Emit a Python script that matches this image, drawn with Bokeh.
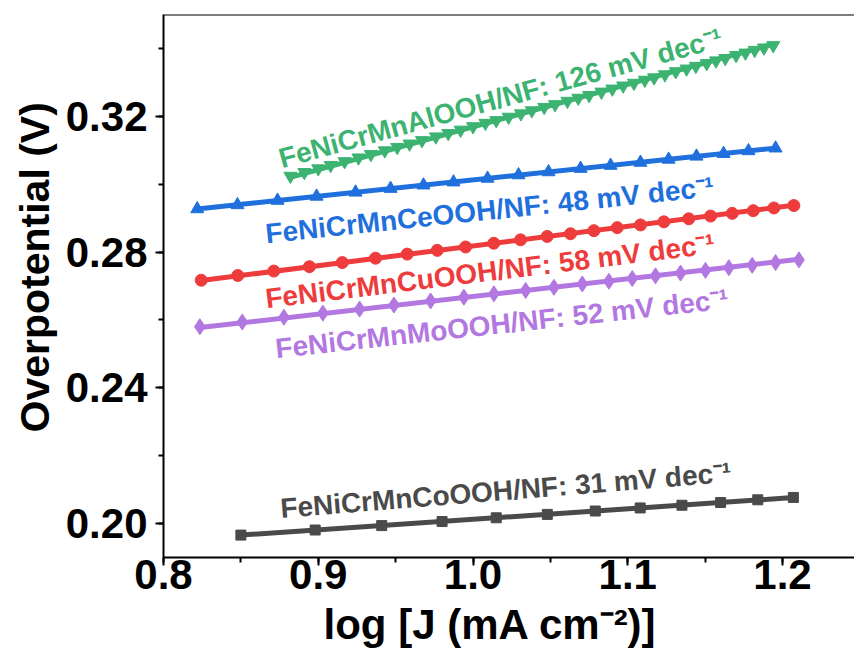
import numpy as np
from bokeh.plotting import figure
from bokeh.models import Range1d, SingleIntervalTicker, PrintfTickFormatter, Label, Span, Title
from bokeh.embed import file_html
from bokeh.resources import INLINE

# Tafel data: log J (mA cm^-2) against overpotential (V)
al_x = [0.882, 0.891, 0.900, 0.908, 0.917, 0.926, 0.934, 0.943, 0.951, 0.959,
        0.967, 0.976, 0.984, 0.992, 1.000, 1.008, 1.015, 1.023, 1.031, 1.038,
        1.046, 1.053, 1.061, 1.068, 1.075, 1.083, 1.090, 1.097, 1.104, 1.111,
        1.117, 1.124, 1.131, 1.138, 1.144, 1.151, 1.157, 1.163, 1.170, 1.176,
        1.182, 1.188, 1.194]
al_y = [0.3024, 0.3035, 0.3046, 0.3056, 0.3067, 0.3078, 0.3088, 0.3099, 0.3109, 0.3119,
        0.3129, 0.3140, 0.3150, 0.3160, 0.3170, 0.3180, 0.3188, 0.3198, 0.3208, 0.3217,
        0.3227, 0.3235, 0.3245, 0.3254, 0.3262, 0.3272, 0.3281, 0.3290, 0.3298, 0.3307,
        0.3314, 0.3323, 0.3332, 0.3340, 0.3348, 0.3356, 0.3364, 0.3371, 0.3380, 0.3387,
        0.3395, 0.3402, 0.3409]

ce_x = [0.8218, 0.8478, 0.8737, 0.8989, 0.9241, 0.9467, 0.9680, 0.9874, 1.0094, 1.0294,
        1.0488, 1.0695, 1.0889, 1.1082, 1.1264, 1.1444, 1.1619, 1.1780, 1.1955]
ce_y = [0.2927, 0.2939, 0.2952, 0.2964, 0.2976, 0.2987, 0.2997, 0.3006, 0.3017, 0.3027,
        0.3036, 0.3046, 0.3055, 0.3064, 0.3073, 0.3082, 0.3090, 0.3098, 0.3106]

cu_x = [0.8244, 0.8480, 0.8713, 0.8943, 0.9155, 0.9370, 0.9575, 0.9769, 0.9952, 1.0134,
        1.0307, 1.0479, 1.0630, 1.0781, 1.0932, 1.1082, 1.1233, 1.1394, 1.1535, 1.1675,
        1.1811, 1.1944, 1.2073]
cu_y = [0.2717, 0.2731, 0.2744, 0.2757, 0.2769, 0.2782, 0.2794, 0.2805, 0.2815, 0.2826,
        0.2836, 0.2846, 0.2854, 0.2863, 0.2872, 0.2880, 0.2889, 0.2898, 0.2906, 0.2914,
        0.2922, 0.2930, 0.2937]

mo_x = [0.8235, 0.8509, 0.8778, 0.9030, 0.9267, 0.9489, 0.9726, 0.9941, 1.0135, 1.0340,
        1.0523, 1.0706, 1.0878, 1.1029, 1.1179, 1.1341, 1.1502, 1.1653, 1.1804, 1.1955,
        1.2106]
mo_y = [0.2580, 0.2594, 0.2608, 0.2620, 0.2632, 0.2644, 0.2656, 0.2667, 0.2677, 0.2687,
        0.2696, 0.2706, 0.2714, 0.2722, 0.2730, 0.2738, 0.2746, 0.2754, 0.2761, 0.2769,
        0.2777]

co_x = [0.850, 0.898, 0.941, 0.980, 1.015, 1.048, 1.079, 1.108, 1.135, 1.160, 1.184, 1.207]
co_y = [0.1966, 0.1981, 0.1994, 0.2006, 0.2017, 0.2027, 0.2037, 0.2046, 0.2054, 0.2062,
        0.2070, 0.2077]

# Tafel slopes in mV dec^-1
slopes = {"Al": 126, "Ce": 48, "Cu": 58, "Mo": 52, "Co": 31}

names = {
    "Al": "FeNiCrMnAlOOH/NF",
    "Ce": "FeNiCrMnCeOOH/NF",
    "Cu": "FeNiCrMnCuOOH/NF",
    "Mo": "FeNiCrMnMoOOH/NF",
    "Co": "FeNiCrMnCoOOH/NF",
}

colors = {"Al": "#3cb371", "Ce": "#1f70dd", "Cu": "#ee3c3c", "Mo": "#b277e0", "Co": "#4a4a4a"}
markers = {"Al": "inverted_triangle", "Ce": "triangle", "Cu": "circle", "Mo": "diamond", "Co": "square"}
msize = {"Al": 13, "Ce": 13, "Cu": 12, "Mo": 16, "Co": 10}

data = {"Al": (al_x, al_y), "Ce": (ce_x, ce_y), "Cu": (cu_x, cu_y),
        "Mo": (mo_x, mo_y), "Co": (co_x, co_y)}

# label anchor (x, y) in data units and rotation in degrees
label_pos = {
    "Al": (0.8750, 0.3074, 15.4),
    "Ce": (0.8659, 0.2854, 6.0),
    "Cu": (0.8659, 0.2662, 7.0),
    "Mo": (0.8724, 0.2515, 6.3),
    "Co": (0.8756, 0.2044, 4.6),
}

FONT = "Liberation Sans"

p = figure(width=854, height=657,
           x_range=Range1d(0.8, 1.2465), y_range=Range1d(0.19, 0.35),
           output_backend="svg", toolbar_location=None,
           min_border_left=163, min_border_right=0,
           min_border_top=14, min_border_bottom=100)
p.outline_line_color = None
p.grid.visible = False
p.background_fill_color = "white"
p.border_fill_color = "white"

for key in ["Co", "Mo", "Cu", "Ce", "Al"]:
    xs, ys = data[key]
    xa = np.array(xs)
    ya = np.array(ys)
    b = slopes[key] / 1000.0
    lx = np.array([xa.min(), xa.max()])
    ly = ya.mean() + b * (lx - xa.mean())
    p.scatter(xs, ys, marker=markers[key], size=msize[key],
              fill_color=colors[key], line_color=colors[key])
    p.line(lx, ly, line_color=colors[key], line_width=5)
    lxp, lyp, ang = label_pos[key]
    p.add_layout(Label(x=lxp, y=lyp, angle=ang, angle_units="deg",
                       text=f"{names[key]}: {slopes[key]} mV dec\u207b\u00b9",
                       text_font=FONT, text_font_style="bold",
                       text_font_size="28px", text_color=colors[key],
                       text_baseline="alphabetic", text_align="left"))

# axes
for ax in (p.xaxis[0], p.yaxis[0]):
    ax.axis_line_width = 2
    ax.axis_line_color = "black"
    ax.major_tick_line_width = 2
    ax.minor_tick_line_width = 2
    ax.major_tick_in = 0
    ax.minor_tick_in = 0
    ax.major_tick_out = 8
    ax.minor_tick_out = 5
    ax.major_label_text_font = FONT
    ax.major_label_text_font_style = "bold"
    ax.major_label_text_font_size = "42px"
    ax.major_label_text_color = "black"

p.xaxis.ticker = SingleIntervalTicker(interval=0.1, num_minor_ticks=2)
p.yaxis.ticker = SingleIntervalTicker(interval=0.04, num_minor_ticks=2)
p.xaxis.formatter = PrintfTickFormatter(format="%.1f")
p.yaxis.formatter = PrintfTickFormatter(format="%.2f")
p.xaxis.major_label_standoff = -6
p.yaxis.major_label_standoff = 8

# top border line
p.add_layout(Span(location=0.35, dimension="width", line_color="black", line_width=2))

# axis titles
p.add_layout(Title(text="log [J (mA cm\u207b\u00b2)]", align="left", offset=160,
                   standoff=14, text_font=FONT, text_font_style="bold",
                   text_font_size="42px", text_color="black"), "below")
p.add_layout(Title(text="Overpotential (V)", align="left", offset=125,
                   standoff=9, text_font=FONT, text_font_style="bold",
                   text_font_size="41px", text_color="black"), "left")

open("out.html", "w").write(file_html(p, INLINE))
